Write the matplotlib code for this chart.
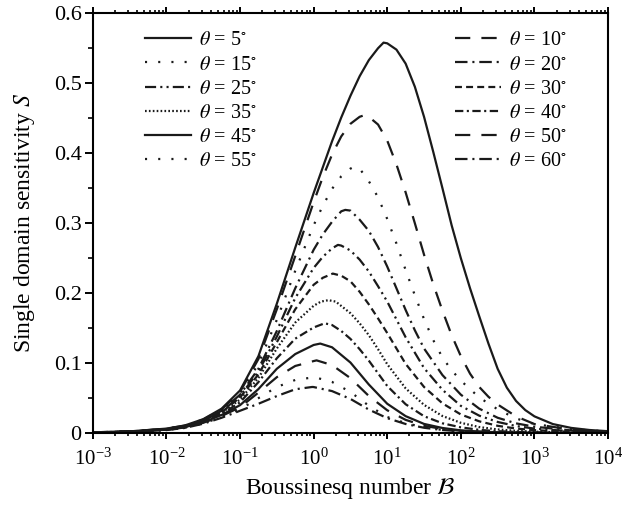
import numpy as np
import matplotlib
matplotlib.use("Agg")
import matplotlib.pyplot as plt
from matplotlib.ticker import LogLocator, MultipleLocator, NullFormatter

plt.rcParams['font.family'] = ['Liberation Serif', 'DejaVu Serif']
plt.rcParams['mathtext.fontset'] = 'stix'
plt.rcParams['lines.scale_dashes'] = False

# ---------------- data: log10(B) and S ----------------
thetas = [5, 10, 15, 20, 25, 30, 35, 40, 45, 50, 55, 60]

b_05 = [-3, -2.5, -2, -1.75, -1.5, -1.25, -1, -0.75, -0.5, -0.25, 0, 0.25, 0.375, 0.5, 0.625, 0.75, 0.875, 0.95, 1.0,
        1.125, 1.25, 1.375, 1.5, 1.625, 1.75, 1.875, 2, 2.125, 2.25, 2.375, 2.5, 2.625, 2.75, 2.875, 3, 3.25, 3.5, 3.75, 4]
s_05 = [.0012, .0025, .0065, .011, .020, .035, .061, .11, .185, .265, .343, .417, .451, .482, .510, .533, .550, .558, .557,
        .548, .528, .495, .452, .402, .350, .297, .250, .207, .167, .128, .092, .065, .046, .033, .024, .013, .0075, .0045, .0028]

b_10 = [-3, -2.5, -2, -1.75, -1.5, -1.25, -1, -0.75, -0.5, -0.25, 0, 0.125, 0.25, 0.375, 0.5, 0.625, 0.68, 0.75, 0.875, 1.0,
        1.125, 1.25, 1.375, 1.5, 1.625, 1.75, 1.875, 2, 2.125, 2.25, 2.375, 2.5, 2.75, 3, 3.5, 4]
s_10 = [.0012, .0025, .0063, .0108, .0195, .034, .059, .106, .177, .253, .330, .366, .398, .424, .442, .452, .454, .452, .441, .418,
        .384, .344, .300, .255, .213, .175, .140, .110, .085, .066, .052, .041, .024, .013, .005, .002]

b_15 = [-3, -2.5, -2, -1.75, -1.5, -1.25, -1, -0.75, -0.5, -0.25, 0, 0.125, 0.25, 0.375, 0.5, 0.54, 0.625, 0.75, 0.875, 1.0,
        1.125, 1.25, 1.375, 1.5, 1.625, 1.75, 1.875, 2, 2.25, 2.5, 2.75, 3, 3.5, 4]
s_15 = [.0011, .0024, .0061, .0105, .019, .033, .057, .099, .162, .232, .297, .325, .349, .367, .378, .380, .378, .360, .337, .306,
        .271, .233, .197, .163, .133, .108, .090, .075, .051, .034, .021, .013, .0057, .0025]

b_20 = [-3, -2.5, -2, -1.75, -1.5, -1.25, -1, -0.75, -0.5, -0.25, 0, 0.125, 0.25, 0.375, 0.43, 0.5, 0.625, 0.75, 0.875, 1.0,
        1.125, 1.25, 1.375, 1.5, 1.75, 2, 2.25, 2.5, 2.75, 3, 3.5, 4]
s_20 = [.0011, .0024, .006, .0102, .0185, .032, .055, .092, .146, .207, .262, .284, .302, .317, .319, .318, .305, .289, .266, .238,
        .207, .176, .147, .121, .083, .055, .035, .022, .014, .0092, .0039, .0016]

b_25 = [-3, -2.5, -2, -1.75, -1.5, -1.25, -1, -0.75, -0.5, -0.25, 0, 0.125, 0.25, 0.33, 0.375, 0.5, 0.625, 0.75, 0.875, 1.0,
        1.25, 1.5, 1.75, 2, 2.25, 2.5, 2.75, 3, 3.5, 4]
s_25 = [.0011, .0023, .0058, .0099, .018, .031, .053, .088, .138, .193, .236, .252, .264, .269, .268, .261, .248, .231, .210, .188,
        .137, .093, .062, .039, .025, .016, .0102, .0065, .0027, .0011]

b_30 = [-3, -2.5, -2, -1.75, -1.5, -1.25, -1, -0.75, -0.5, -0.25, 0, 0.125, 0.26, 0.375, 0.5, 0.625, 0.75, 0.875, 1.0,
        1.25, 1.5, 1.75, 2, 2.25, 2.5, 2.75, 3, 3.5, 4]
s_30 = [.001, .0022, .0056, .0096, .0175, .030, .051, .084, .130, .177, .212, .222, .228, .225, .217, .202, .184, .164, .143,
        .099, .066, .0426, .0267, .0169, .0105, .0066, .0043, .0018, .0007]

b_35 = [-3, -2.5, -2, -1.75, -1.5, -1.25, -1, -0.75, -0.5, -0.25, 0, 0.1, 0.2, 0.3, 0.5, 0.625, 0.75, 0.875, 1.0,
        1.25, 1.5, 1.75, 2, 2.25, 2.5, 2.75, 3, 3.5, 4]
s_35 = [.001, .0021, .0054, .0093, .017, .029, .048, .079, .121, .158, .182, .188, .190, .188, .1714, .157, .140, .120, .0985,
        .064, .0404, .0245, .0148, .0087, .0053, .0034, .0021, .0009, .0004]

b_40 = [-3, -2.5, -2, -1.75, -1.5, -1.25, -1, -0.75, -0.5, -0.25, 0, 0.15, 0.25, 0.375, 0.5, 0.625, 0.75, 1.0,
        1.25, 1.5, 1.75, 2, 2.25, 2.5, 2.75, 3, 3.5, 4]
s_40 = [.001, .002, .0052, .009, .0162, .0275, .044, .073, .107, .135, .151, .157, .1545, .146, .1347, .120, .1036, .0674,
        .0413, .0242, .0141, .0083, .0047, .0028, .0018, .0011, .0005, .0002]

b_45 = [-3, -2.5, -2, -1.75, -1.5, -1.25, -1, -0.75, -0.5, -0.25, 0, 0.09, 0.25, 0.5, 0.75, 1.0,
        1.25, 1.5, 1.75, 2, 2.25, 2.5, 2.75, 3, 3.5, 4]
s_45 = [.0009, .002, .005, .0086, .0155, .026, .040, .063, .092, .113, .126, .128, .1227, .1009, .0695, .042,
        .0243, .0132, .0074, .004, .0023, .0013, .0008, .0005, .0002, .0001]

b_50 = [-3, -2.5, -2, -1.75, -1.5, -1.25, -1, -0.75, -0.5, -0.25, 0, 0.04, 0.25, 0.5, 0.75, 1.0,
        1.25, 1.5, 1.75, 2, 2.25, 2.5, 2.75, 3, 3.5, 4]
s_50 = [.0009, .0019, .0048, .0082, .0148, .0245, .037, .058, .080, .096, .103, .104, .0973, .0786, .0531, .0327,
        .019, .0105, .006, .0033, .002, .0012, .0007, .0005, .0002, .0001]

b_55 = [-3, -2.5, -2, -1.75, -1.5, -1.25, -1, -0.75, -0.5, -0.25, 0, 0.01, 0.25, 0.5, 0.75, 1.0,
        1.25, 1.5, 1.75, 2, 2.25, 2.5, 2.75, 3, 3.5, 4]
s_55 = [.0009, .0018, .0046, .0078, .014, .023, .034, .050, .066, .076, .0798, .080, .0732, .0588, .0392, .0231,
        .0144, .0081, .0046, .0026, .0016, .001, .0006, .0004, .0002, .0001]

b_60 = [-3, -2.5, -2, -1.75, -1.5, -1.25, -1, -0.75, -0.5, -0.25, -0.02, 0, 0.25, 0.5, 0.75, 1.0,
        1.25, 1.5, 1.75, 2, 2.25, 2.5, 2.75, 3, 3.5, 4]
s_60 = [.0008, .0017, .0044, .0075, .0135, .022, .032, .042, .053, .0627, .066, .0659, .0601, .0489, .0337, .0214,
        .0131, .0077, .0045, .0027, .0017, .001, .0007, .0005, .0002, .0001]

curves_b = [b_05, b_10, b_15, b_20, b_25, b_30, b_35, b_40, b_45, b_50, b_55, b_60]
curves_s = [s_05, s_10, s_15, s_20, s_25, s_30, s_35, s_40, s_45, s_50, s_55, s_60]

# Origin-like line style cycle
style_cycle = ['-', (0, (11, 8)), (0, (1.5, 8)), (0, (9, 3.5, 1.5, 3.5)),
               (0, (8, 3, 1.5, 3, 1.5, 3)), (0, (5, 3)), (0, (1.2, 1.6)),
               (0, (6, 2.5, 1.5, 2.5))]

fig = plt.figure(figsize=(6.23, 5.09), dpi=100)
ax = fig.add_axes([0.149, 0.149, 0.827, 0.825])

handles = {}
for i, th in enumerate(thetas):
    xs = 10 ** np.asarray(curves_b[i], dtype=float)
    ln, = ax.plot(xs, curves_s[i], color='#1a1a1a', lw=1.6,
                  linestyle=style_cycle[i % 8], dash_capstyle='butt',
                  solid_joinstyle='round', label=r'$\theta$ = %d$^{\circ}$' % th)
    handles[th] = ln

ax.set_xscale('log')
ax.set_xlim(1e-3, 1e4)
ax.set_ylim(0, 0.6)

ax.xaxis.set_major_locator(LogLocator(base=10, numticks=20))
ax.xaxis.set_minor_locator(LogLocator(base=10, subs=np.arange(2, 10), numticks=100))
ax.xaxis.set_minor_formatter(NullFormatter())
ax.yaxis.set_minor_locator(MultipleLocator(0.05))
ax.set_yticks([0, 0.1, 0.2, 0.3, 0.4, 0.5, 0.6])
ax.set_yticklabels(['0', '0.1', '0.2', '0.3', '0.4', '0.5', '0.6'])

ax.tick_params(axis='x', which='major', direction='out', length=4.5, width=1.4,
               labelsize=15, top=True, pad=6.5)
ax.tick_params(axis='x', which='minor', direction='out', length=2.5, width=1.2, top=True)
ax.tick_params(axis='y', which='major', direction='out', length=5.5, width=1.4,
               labelsize=16, right=False, pad=2.5)
ax.tick_params(axis='y', which='minor', direction='out', length=3.5, width=1.2, right=False)
for sp in ax.spines.values():
    sp.set_linewidth(1.5)

ax.set_xlabel(r'Boussinesq number $\mathcal{B}$', fontsize=17, labelpad=4)
ax.set_ylabel(r'Single domain sensitivity $S$', fontsize=17, labelpad=12)

left_ths = [5, 15, 25, 35, 45, 55]
right_ths = [10, 20, 30, 40, 50, 60]
common = dict(frameon=False, fontsize=14.5, handlelength=2.3, handletextpad=0.4,
              labelspacing=0.25, borderpad=0, borderaxespad=0, loc='upper left')
leg1 = ax.legend([handles[t] for t in left_ths], [handles[t].get_label() for t in left_ths],
                 bbox_to_anchor=(0.101, 0.957), **common)
ax.add_artist(leg1)
ax.legend([handles[t] for t in right_ths], [handles[t].get_label() for t in right_ths],
          bbox_to_anchor=(0.703, 0.957), **common)

fig.savefig('out.png', dpi=100)
